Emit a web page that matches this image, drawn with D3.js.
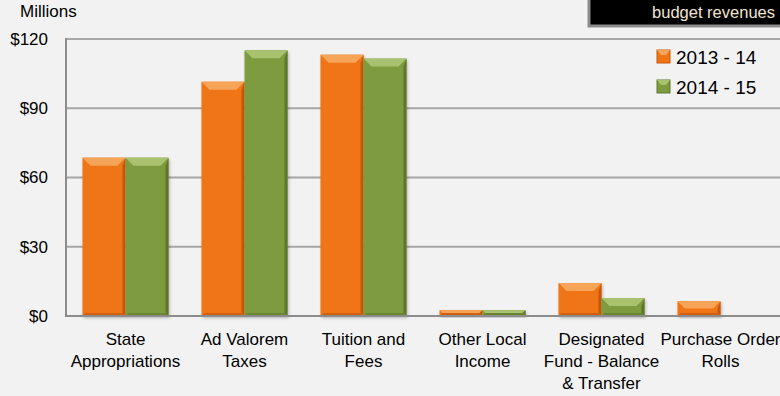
<!DOCTYPE html>
<meta charset="utf-8">
<style>
    body { margin: 0; background: #f2f2f2; }
    svg { display: block; }
    text { font-family: "Liberation Sans", Arial, sans-serif; fill: #000; }
    .grid line { stroke: #a6a6a6; stroke-width: 2; }
    .tick text { font-size: 17px; }
    .cat text { font-size: 17px; }
</style>
<body>
<script src="https://cdnjs.cloudflare.com/ajax/libs/d3/7.8.5/d3.min.js"></script>
<script>
    var categories = [["State", "Appropriations"], ["Ad Valorem", "Taxes"], ["Tuition and", "Fees"],
                      ["Other Local", "Income"], ["Designated", "Fund - Balance", "& Transfer"],
                      ["Purchase Order", "Rolls"]];
    var seriesNames = ["2013 - 14", "2014 - 15"];
    var values1314 = [68.6, 101.5, 113.2, 2.5, 14.3, 6.4];
    var values1415 = [68.6, 115.1, 111.5, 2.5, 7.8, 0];
    var yTicks = [0, 30, 60, 90, 120];

    var palette = [
        {main: "#f07414", light: "#f6a458", dark: "#d25f0a", edge: "#c4580a"},
        {main: "#7e9b3f", light: "#a9c26f", dark: "#6a8532", edge: "#5f772c"}
    ];

    var width = 780, height = 396;
    var plot = {left: 66, right: 780, top: 39, bottom: 316};

    var svg = d3.select("body").append("svg")
        .attr("width", width)
        .attr("height", height);

    var defs = svg.append("defs");
    var shadow = defs.append("filter").attr("id", "shadow")
        .attr("x", "-20%").attr("y", "-20%").attr("width", "140%").attr("height", "140%");
    shadow.append("feDropShadow").attr("dx", 1).attr("dy", 2).attr("stdDeviation", 1.5)
        .attr("flood-color", "#000").attr("flood-opacity", 0.25);

    var keys = categories.map(function(c, i) { return i; });

    var x0 = d3.scaleBand()
        .domain(keys)
        .range([plot.left, plot.right])
        .paddingInner(0.277)
        .paddingOuter(0.1385);

    var x1 = d3.scaleBand()
        .domain([0, 1])
        .range([0, x0.bandwidth()]);

    var y = d3.scaleLinear()
        .domain([0, 120])
        .range([plot.bottom, plot.top]);

    // gridlines
    svg.append("g")
        .attr("class", "grid")
        .selectAll("line")
        .data(yTicks.slice(1))
        .join("line")
        .attr("x1", plot.left)
        .attr("x2", plot.right)
        .attr("y1", function(d) { return y(d); })
        .attr("y2", function(d) { return y(d); });

    // y axis
    var yAxis = d3.axisLeft(y)
        .tickValues(yTicks)
        .tickSize(0)
        .tickPadding(18)
        .tickFormat(function(d) { return "$" + d; });

    var gy = svg.append("g")
        .attr("transform", "translate(" + plot.left + ",0)")
        .call(yAxis);
    gy.select(".domain").remove();
    gy.selectAll(".tick text").attr("fill", "#000");

    svg.append("line")
        .attr("x1", plot.left).attr("x2", plot.left)
        .attr("y1", plot.top - 1).attr("y2", plot.bottom + 1)
        .attr("stroke", "#8c8c8c").attr("stroke-width", 2);

    svg.append("text")
        .attr("x", 20)
        .attr("y", 17)
        .style("font-size", "17px")
        .text("Millions");

    // bars
    var rows = [];
    keys.forEach(function(k) {
        [values1314[k], values1415[k]].forEach(function(v, s) {
            if (v > 0) rows.push({cat: k, s: s, v: v});
        });
    });

    var bars = svg.append("g")
        .selectAll("g")
        .data(rows)
        .join("g")
        .attr("filter", "url(#shadow)");

    function geom(d) {
        var x = x0(d.cat) + x1(d.s), w = x1.bandwidth();
        var top = y(d.v), h = y(0) - top;
        var b = Math.min(8, h / 2);
        return {x: x, w: w, t: top, h: h, b: b};
    }
    function pts(a) { return a.map(function(p) { return p.join(","); }).join(" "); }

    bars.append("rect")
        .attr("x", function(d) { return geom(d).x; })
        .attr("y", function(d) { return geom(d).t; })
        .attr("width", function(d) { return geom(d).w; })
        .attr("height", function(d) { return geom(d).h; })
        .attr("fill", function(d) { return palette[d.s].main; });

    bars.append("polygon")
        .attr("points", function(d) {
            var g = geom(d);
            return pts([[g.x, g.t], [g.x + g.w, g.t], [g.x + g.w - g.b, g.t + g.b], [g.x + g.b, g.t + g.b]]);
        })
        .attr("fill", function(d) { return palette[d.s].light; });

    bars.append("polygon")
        .attr("points", function(d) {
            var g = geom(d), bt = g.t + g.h;
            return pts([[g.x + g.w, g.t], [g.x + g.w, bt], [g.x + g.w - 3, bt - 3], [g.x + g.w - 3, g.t + g.b]]);
        })
        .attr("fill", function(d) { return palette[d.s].edge; });

    bars.append("polygon")
        .attr("points", function(d) {
            var g = geom(d), bt = g.t + g.h;
            return pts([[g.x, bt], [g.x + g.w, bt], [g.x + g.w - 3, bt - 3], [g.x + 3, bt - 3]]);
        })
        .attr("fill", function(d) { return palette[d.s].dark; });

    // baseline
    svg.append("line")
        .attr("x1", plot.left).attr("x2", plot.right)
        .attr("y1", y(0)).attr("y2", y(0))
        .attr("stroke", "#8c8c8c").attr("stroke-width", 2);

    // category labels
    svg.append("g")
        .attr("class", "cat")
        .selectAll("text")
        .data(keys)
        .join("text")
        .attr("text-anchor", "middle")
        .attr("x", function(k) { return x0(k) + x0.bandwidth() / 2; })
        .attr("y", 345)
        .each(function(k) {
            var t = d3.select(this);
            categories[k].forEach(function(line, i) {
                t.append("tspan")
                    .attr("x", x0(k) + x0.bandwidth() / 2)
                    .attr("dy", i === 0 ? 0 : 22)
                    .text(line);
            });
        });

    // legend
    var legend = svg.append("g")
        .selectAll("g")
        .data(seriesNames)
        .join("g")
        .attr("transform", function(d, i) { return "translate(657," + (50 + i * 30) + ")"; });

    legend.append("rect")
        .attr("width", 13).attr("height", 13)
        .attr("fill", function(d, i) { return palette[i].main; })
        .attr("stroke", function(d, i) { return palette[i].edge; });
    legend.append("polygon")
        .attr("points", "0,0 13,0 9,5 4,5")
        .attr("fill", function(d, i) { return palette[i].light; });

    legend.append("text")
        .attr("x", 19)
        .attr("y", 7)
        .attr("dy", "0.35em")
        .style("font-size", "19px")
        .text(function(d) { return d; });

    // title box
    svg.append("rect")
        .attr("x", 589).attr("y", -3)
        .attr("width", 200).attr("height", 29)
        .attr("fill", "#000")
        .attr("stroke", "#8c8c8c")
        .attr("stroke-width", 3);
    svg.append("text")
        .attr("x", 775)
        .attr("y", 18)
        .attr("text-anchor", "end")
        .style("font-size", "16.5px")
        .style("fill", "#f2e4d4")
        .text("budget revenues");
</script>
